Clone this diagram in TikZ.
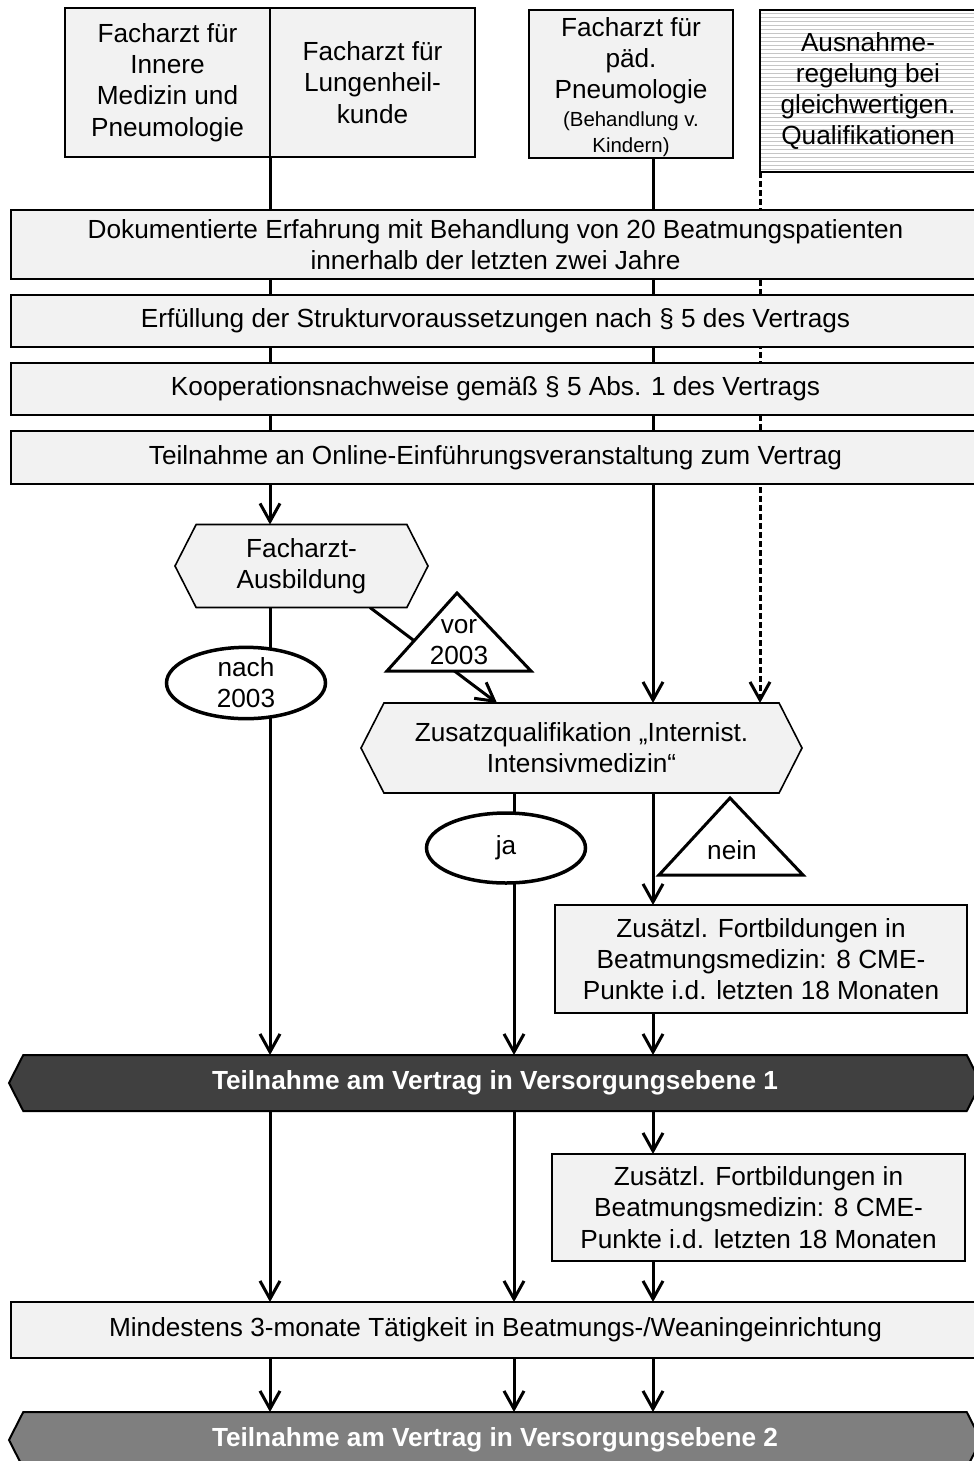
\documentclass[tikz,border=0pt]{standalone}
\usepackage{fontspec}
\setmainfont{Liberation Sans}
\usepackage{tikz}
\usetikzlibrary{shapes,shapes.geometric,arrows.meta,positioning,backgrounds,patterns.meta}
\definecolor{boxgray}{HTML}{F2F2F2}
\definecolor{darkbar}{HTML}{404040}
\definecolor{midbar}{HTML}{7F7F7F}
\newcommand\smalltxt{\fontsize{10.2}{13}\selectfont}
\tikzset{
  box/.style={draw, line width=1pt, fill=boxgray, align=center, inner sep=0pt, outer sep=0pt},
  widebox/.style={box, minimum width=484.5pt},
  hexa/.style={signal, signal to=west and east, signal pointer angle=126, draw, line width=0.8pt, fill=boxgray, align=center, inner sep=0pt, outer sep=0pt},
  bar/.style={hexa, line width=1pt, minimum width=486pt, minimum height=28pt, text=white, font=\fontsize{13.1}{15.6}\selectfont\bfseries},
  ellip/.style={ellipse, draw, line width=1.75pt, fill=white, minimum width=79.5pt, minimum height=35pt, inner sep=0pt, align=center},
  triline/.style={draw, line width=1.5pt, fill=white, line join=miter},
  tri/.style={align=center, inner sep=0pt},
  conn/.style={line width=1.5pt},
  dotline/.style={dash pattern=on 3pt off 1.5pt}
}
\begin{document}
\begin{tikzpicture}[x=0.5pt, y=-0.5pt, >={Straight Barb[length=9pt,width=10pt]},
  every node/.style={font=\fontsize{13.1}{15.6}\selectfont}]
  \useasboundingbox (0,0) rectangle (974,1461);
  \clip (0,0) rectangle (974,1461);
  % columns of the connectors
  \coordinate (colA) at (270,0);
  \coordinate (colB) at (514,0);
  \coordinate (colC) at (653,0);
  \coordinate (colF) at (370,0);
  \coordinate (colG) at (497,0);
  % qualifications
  \node (b1) [box, minimum width=102.5pt, minimum height=74.5pt] at (167.5,82.5)
  {Facharzt für\\Innere\\Medizin und\\Pneumologie};
  \node (b2) [box, minimum width=102.5pt, minimum height=74.5pt, anchor=west] at (b1.east)
  {Facharzt für\\Lungenheil-\\kunde};
  \node (b3) [box, minimum width=102pt, minimum height=74pt] at (631,84) {};
  \node (b3txt) [align=center, inner sep=0pt, anchor=north] at (631,17)
  {Facharzt für\\päd.\\Pneumologie\\[-1.5pt]{\smalltxt(Behandlung v.}\\[-3pt]{\smalltxt Kindern)}};
  \node (b4) [box, fill=white, pattern={Lines[angle=0,distance=2pt,line width=0.4pt]}, pattern color=gray!45,
    minimum width=108pt, minimum height=81pt] at (868,91)
  {Ausnahme-\\regelung bei\\gleichwertigen.\\Qualifikationen};
  % requirements
  \node (dok) [widebox, minimum height=34.5pt] at (495.5,244.5)
  {Dokumentierte Erfahrung mit Behandlung von 20 Beatmungspatienten\\innerhalb der letzten zwei Jahre};
  \node (erf) [widebox, minimum height=26pt, below=8pt of dok]
  {Erfüllung der Strukturvoraussetzungen nach § 5 des Vertrags};
  \node (koop) [widebox, minimum height=26pt, below=8pt of erf]
  {Kooperationsnachweise gemäß § 5 Abs. 1 des Vertrags};
  \node (online) [widebox, minimum height=26.5pt, below=8pt of koop]
  {Teilnahme an Online-Einführungsveranstaltung zum Vertrag};
  % decisions
  \node (fa) [hexa, minimum width=126.5pt, minimum height=41.5pt] at (301.5,566) {Facharzt-\\Ausbildung};
  \node (zq) [hexa, minimum width=220.5pt, minimum height=45pt] at (581.5,748)
  {Zusatzqualifikation „Internist.\\Intensivmedizin“};
  \node (fb1) [box, minimum width=206pt, minimum height=54pt] at (761,959)
  {Zusätzl. Fortbildungen in\\Beatmungsmedizin: 8 CME-\\Punkte i.d. letzten 18 Monaten};
  \node (v1) [bar, fill=darkbar] at (495,1083) {Teilnahme am Vertrag in Versorgungsebene 1};
  \node (fb2) [box, minimum width=206.5pt, minimum height=53.5pt] at (758.5,1207.5)
  {Zusätzl. Fortbildungen in\\Beatmungsmedizin: 8 CME-\\Punkte i.d. letzten 18 Monaten};
  \node (mind) [widebox, minimum height=28pt] at (495.5,1330)
  {Mindestens 3-monate Tätigkeit in Beatmungs-/Weaningeinrichtung};
  \node (v2) [bar, fill=midbar] at (495,1440) {Teilnahme am Vertrag in Versorgungsebene 2};
  % labels on the paths
  \node (nach) [ellip] at (246,683) {nach\\2003};
  \node (ja) [ellip] at (506,848) {ja};
  \draw[triline] (387,671) -- (457,593) -- (531,671) -- cycle;
  \node (vor) [tri] at (459,642) {vor\\2003};
  \draw[triline] (659,875) -- (730,798) -- (803,875) -- cycle;
  \node (nein) [tri] at (732,850) {nein};
  % connectors
  \begin{scope}[on background layer]
    \draw[conn] (b1.south east) -- (online.south -| colA);
    \draw[conn,->] (online.south -| colA) -- (fa.north -| colA);
    \draw[conn] (b3.south -| colC) -- (online.south -| colC);
    \draw[conn,->] (online.south -| colC) -- (zq.north -| colC);
    \draw[conn,dotline,->] (b4.south west) -- (zq.north -| b4.south west);
    \draw[conn,->] (fa.south -| colA) -- (v1.north -| colA);
    \draw[conn,->] (fa.south -| colF) -- (zq.north -| colG);
    \draw[conn,->] (zq.south -| colB) -- (v1.north -| colB);
    \draw[conn,->] (zq.south -| colC) -- (fb1.north -| colC);
    \draw[conn,->] (fb1.south -| colC) -- (v1.north -| colC);
    \foreach \c in {colA,colB}
      \draw[conn,->] (v1.south -| \c) -- (mind.north -| \c);
    \draw[conn,->] (v1.south -| colC) -- (fb2.north -| colC);
    \draw[conn,->] (fb2.south -| colC) -- (mind.north -| colC);
    \foreach \c in {colA,colB,colC}
      \draw[conn,->] (mind.south -| \c) -- (v2.north -| \c);
  \end{scope}
\end{tikzpicture}
\end{document}
